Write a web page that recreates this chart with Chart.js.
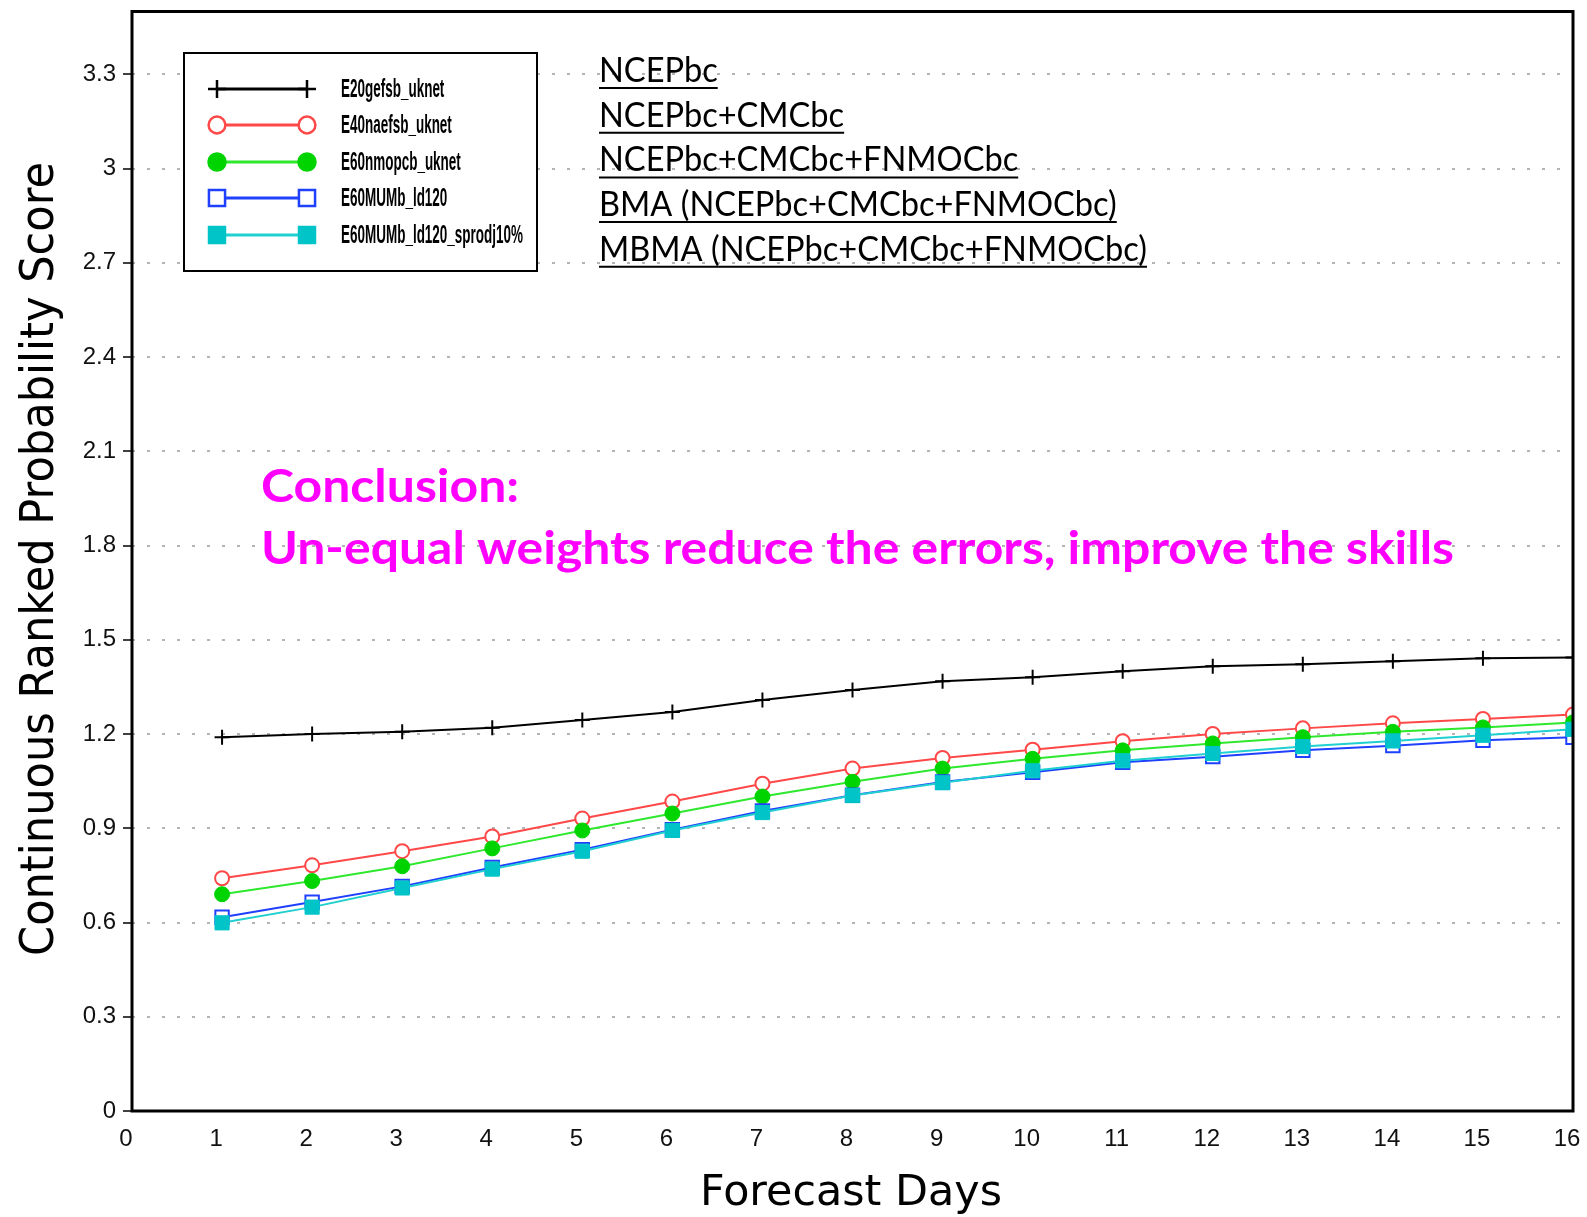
<!DOCTYPE html>
<html>
<head>
<meta charset="utf-8">
<title>CRPS vs Forecast Days</title>
<script src="https://cdn.jsdelivr.net/npm/chart.js@4.4.1/dist/chart.umd.min.js"></script>
<style>
  html, body { margin: 0; padding: 0; background: #fff; }
  #wrap { width: 1587px; height: 1217px; position: relative; }
</style>
</head>
<body>
<div id="wrap"><canvas id="crpsChart"></canvas></div>
<script>
/* data */
const days = [1, 2, 3, 4, 5, 6, 7, 8, 9, 10, 11, 12, 13, 14, 15, 16];
const xTicks = [0, 1, 2, 3, 4, 5, 6, 7, 8, 9, 10, 11, 12, 13, 14, 15, 16];
const yTicks = [0, 0.3, 0.6, 0.9, 1.2, 1.5, 1.8, 2.1, 2.4, 2.7, 3, 3.3];
const yTickLabels = ['0', '0.3', '0.6', '0.9', '1.2', '1.5', '1.8', '2.1', '2.4', '2.7', '3', '3.3'];

const seriesNames = ['E20gefsb_uknet', 'E40naefsb_uknet', 'E60nmopcb_uknet', 'E60MUMb_ld120', 'E60MUMb_ld120_sprodj10%'];
const e20gefsb = [1.19, 1.20, 1.207, 1.22, 1.245, 1.27, 1.308, 1.34, 1.368, 1.381, 1.40, 1.416, 1.422, 1.432, 1.441, 1.444];
const e40naefsb = [0.741, 0.782, 0.827, 0.874, 0.931, 0.985, 1.042, 1.09, 1.124, 1.15, 1.177, 1.2, 1.218, 1.234, 1.248, 1.262];
const e60nmopcb = [0.69, 0.732, 0.779, 0.836, 0.893, 0.947, 1.001, 1.048, 1.09, 1.121, 1.148, 1.17, 1.19, 1.207, 1.221, 1.237];
const e60mumb = [0.617, 0.665, 0.715, 0.775, 0.832, 0.895, 0.955, 1.005, 1.047, 1.078, 1.11, 1.128, 1.148, 1.163, 1.18, 1.19];
const e60mumbSprd = [0.599, 0.649, 0.71, 0.77, 0.827, 0.893, 0.95, 1.004, 1.045, 1.083, 1.115, 1.138, 1.16, 1.178, 1.196, 1.215];

const annotLines = ['NCEPbc', 'NCEPbc+CMCbc', 'NCEPbc+CMCbc+FNMOCbc', 'BMA (NCEPbc+CMCbc+FNMOCbc)', 'MBMA (NCEPbc+CMCbc+FNMOCbc)'];
const conclusionLines = ['Conclusion:', 'Un-equal weights reduce the errors, improve the skills'];

function toPoints(values) {
  return days.map((d, i) => ({ x: d, y: values[i] }));
}

const datasets = [
  {
    label: seriesNames[0], data: toPoints(e20gefsb),
    borderColor: '#000000', backgroundColor: '#000000', borderWidth: 2,
    pointStyle: 'cross', pointRadius: 7.5, pointBorderWidth: 2, order: 4
  },
  {
    label: seriesNames[1], data: toPoints(e40naefsb),
    borderColor: '#ff4848', backgroundColor: '#ffffff', borderWidth: 2,
    pointStyle: 'circle', pointRadius: 7, pointBorderWidth: 2, order: 3
  },
  {
    label: seriesNames[2], data: toPoints(e60nmopcb),
    borderColor: '#2ee82e', backgroundColor: '#00d400', borderWidth: 2,
    pointStyle: 'circle', pointRadius: 7.5, pointBorderWidth: 1,
    pointBorderColor: '#00d400', order: 2
  },
  {
    label: seriesNames[3], data: toPoints(e60mumb),
    borderColor: '#2040ff', backgroundColor: '#ffffff', borderWidth: 2,
    pointStyle: 'rect', pointRadius: 9.5, pointBorderWidth: 2, order: 1
  },
  {
    label: seriesNames[4], data: toPoints(e60mumbSprd),
    borderColor: '#20d0d0', backgroundColor: '#00c4c8', borderWidth: 2,
    pointStyle: 'rect', pointRadius: 10, pointBorderWidth: 1,
    pointBorderColor: '#00c4c8', order: 0
  }
];
datasets.forEach(ds => { ds.tension = 0; ds.fill = false; ds.clip = 0; });

// draw a string squeezed/stretched horizontally
function fitText(ctx, text, x, y, sx) {
  ctx.save();
  ctx.translate(x, y);
  ctx.scale(sx, 1);
  ctx.fillText(text, 0, 0);
  ctx.restore();
}

const decorations = {
  id: 'decorations',
  afterDraw(chart) {
    const ctx = chart.ctx;
    const area = chart.chartArea;

    // frame
    ctx.save();
    ctx.strokeStyle = '#000';
    ctx.lineWidth = 3;
    ctx.strokeRect(area.left, area.top, area.right - area.left, area.bottom - area.top);
    ctx.restore();

    // legend box
    ctx.save();
    ctx.fillStyle = '#fff';
    ctx.fillRect(184, 53, 353, 218);
    ctx.strokeStyle = '#000';
    ctx.lineWidth = 2;
    ctx.strokeRect(184, 53, 353, 218);
    const rowY = [89, 125, 162, 198, 235];
    ctx.font = 'bold 25px "Liberation Sans"';
    let longest = 0;
    seriesNames.forEach(n => { longest = Math.max(longest, ctx.measureText(n).width); });
    const legSx = 182 / longest;
    datasets.forEach((ds, i) => {
      const y = rowY[i];
      ctx.strokeStyle = ds.borderColor;
      ctx.lineWidth = 3;
      ctx.beginPath();
      ctx.moveTo(217, y);
      ctx.lineTo(307, y);
      ctx.stroke();
      [217, 307].forEach(px => {
        ctx.fillStyle = ds.backgroundColor;
        ctx.strokeStyle = ds.pointBorderColor || ds.borderColor;
        ctx.lineWidth = ds.pointBorderWidth + 0.5;
        Chart.helpers.drawPoint(ctx, {
          pointStyle: ds.pointStyle, radius: ds.pointRadius * 1.2,
          borderWidth: ds.pointBorderWidth, rotation: 0
        }, px, y);
      });
      ctx.fillStyle = '#000';
      ctx.textBaseline = 'middle';
      ctx.textAlign = 'left';
      fitText(ctx, ds.label, 341, y + 1, legSx);
    });
    ctx.restore();

    // underlined combination labels
    ctx.save();
    ctx.font = '34px Lato';
    ctx.fillStyle = '#000';
    ctx.strokeStyle = '#000';
    ctx.textBaseline = 'alphabetic';
    let widest = 0;
    annotLines.forEach(t => { widest = Math.max(widest, ctx.measureText(t).width); });
    const annSx = 548 / widest;
    annotLines.forEach((t, i) => {
      const base = 82 + i * 44.7;
      fitText(ctx, t, 599, base, annSx);
      const w = ctx.measureText(t).width * annSx;
      ctx.lineWidth = 2;
      ctx.beginPath();
      ctx.moveTo(599, base + 6);
      ctx.lineTo(599 + w, base + 6);
      ctx.stroke();
    });
    ctx.restore();

    // conclusion
    ctx.save();
    ctx.font = 'bold 46px Lato';
    ctx.fillStyle = '#ff00ff';
    ctx.textBaseline = 'alphabetic';
    const conSx = 1193 / ctx.measureText(conclusionLines[1]).width;
    fitText(ctx, conclusionLines[0], 261, 502, conSx);
    fitText(ctx, conclusionLines[1], 261, 564, conSx);
    ctx.restore();

    // axis titles
    ctx.save();
    ctx.fillStyle = '#000';
    ctx.font = '46px "DejaVu Sans"';
    ctx.textAlign = 'center';
    ctx.textBaseline = 'alphabetic';
    const yTitle = 'Continuous Ranked Probability Score';
    ctx.translate(53, 559);
    ctx.rotate(-Math.PI / 2);
    fitText(ctx, yTitle, 0, 0, 794 / ctx.measureText(yTitle).width);
    ctx.restore();

    ctx.save();
    ctx.fillStyle = '#000';
    ctx.font = '42px "DejaVu Sans"';
    ctx.textAlign = 'center';
    ctx.textBaseline = 'alphabetic';
    const xTitle = 'Forecast Days';
    fitText(ctx, xTitle, 851, 1205, 302 / ctx.measureText(xTitle).width);
    ctx.restore();
  }
};

const config = {
  type: 'line',
  data: { datasets },
  options: {
    responsive: true,
    maintainAspectRatio: false,
    animation: false,
    events: [],
    layout: { padding: { top: 8, right: 14, left: 0, bottom: 0 } },
    plugins: { legend: { display: false }, tooltip: { enabled: false } },
    scales: {
      x: {
        type: 'linear',
        min: 0,
        max: 16,
        afterBuildTicks: scale => { scale.ticks = xTicks.map(v => ({ value: v })); },
        afterFit: scale => {
          scale.height = 106;
          scale.paddingLeft = 0;
          scale.paddingRight = 0;
        },
        grid: { display: false, drawTicks: false },
        border: { display: false },
        ticks: {
          padding: 14,
          labelOffset: -6,
          maxRotation: 0,
          autoSkip: false,
          color: '#111',
          font: { family: '"Liberation Sans"', size: 24 },
          callback: v => String(v)
        }
      },
      y: {
        type: 'linear',
        min: 0,
        max: 3.5,
        afterBuildTicks: scale => { scale.ticks = yTicks.map(v => ({ value: v })); },
        afterFit: scale => {
          scale.width = 132;
          scale.paddingTop = 0;
          scale.paddingBottom = 0;
        },
        grid: {
          color: '#b4b4b4',
          lineWidth: 2,
          drawTicks: true,
          tickLength: 9,
          tickColor: '#000',
          tickWidth: 1.5
        },
        border: { display: false, dash: [3, 12] },
        ticks: {
          padding: 7,
          autoSkip: false,
          color: '#111',
          font: { family: '"Liberation Sans"', size: 24 },
          callback: function (v) {
            const i = yTicks.findIndex(t => Math.abs(t - v) < 1e-6);
            return i >= 0 ? yTickLabels[i] : '';
          }
        }
      }
    }
  },
  plugins: [decorations]
};

const crpsChart = new Chart(document.getElementById('crpsChart'), config);
</script>
</body>
</html>
